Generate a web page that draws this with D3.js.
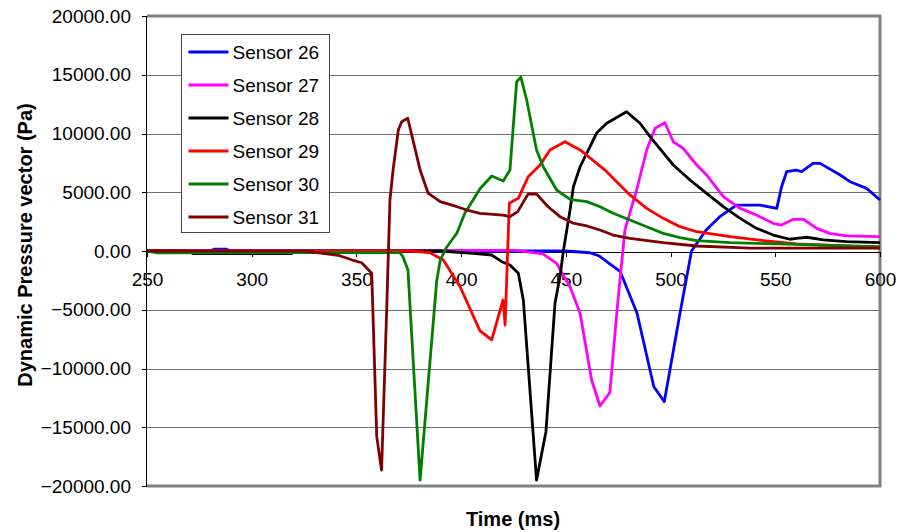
<!DOCTYPE html>
<meta charset="utf-8">
<style>
body { margin: 0; background: #fff; font-family: "Liberation Sans", Arial, sans-serif; }
.axis text { font-family: "Liberation Sans", Arial, sans-serif; font-size: 19px; fill: #000; }
.axis path, .axis line { stroke: #000; stroke-width: 1; shape-rendering: crispEdges; }
.grid line { stroke: #707070; stroke-width: 1; shape-rendering: crispEdges; }
.series { fill: none; stroke-width: 2.8; stroke-linejoin: round; }
</style>
<script src="https://d3js.org/d3.v7.min.js"></script>
<body>
<div id="chart"></div>
<script>
// series data, [time ms, pressure Pa]
var sensor26 = [[250,0],[280,0],[282,150],[288,150],[290,0],[450,0],[461.5,-150],[466,-430],[476,-1760],[484,-5300],[492,-11550],[497,-12820],[504.5,-5300],[510,0],[517,1790],[523.5,2920],[531.5,3910],[542.7,3910],[550.7,3630],[553,5470],[555.4,6750],[560,6890],[562.6,6750],[568,7460],[571.4,7460],[581,6470],[585.7,5900],[593.6,5330],[600,4340]];
var sensor27 = [[250,0],[426,50],[439,-250],[445.6,-1050],[452,-3040],[456.8,-5300],[462.3,-10980],[466.3,-13190],[471,-12060],[474.3,-5300],[478.2,1790],[483.8,5190],[488.6,8600],[492.6,10440],[497.3,10920],[501.3,9300],[506,8740],[512.5,7320],[517.2,6470],[525.2,4620],[533.2,3630],[541,3060],[549,2360],[553,2210],[558.6,2700],[563.4,2700],[569.8,1930],[576,1500],[584,1280],[600,1220]];
var sensor28 = [[250,0],[270,0],[272,-220],[319,-220],[321,0],[390,0],[405.8,-200],[414.6,-340],[419.4,-910],[423.3,-1190],[427.3,-1900],[429.7,-4170],[436,-19500],[440.5,-15380],[444.8,-4450],[447.2,-2190],[448.8,0],[452,3490],[453.6,5470],[456.8,7170],[461.5,8870],[464.7,10040],[469.5,10870],[479,11850],[485.4,10870],[490.2,9730],[501.3,7320],[509.3,6040],[517.2,4910],[525.2,3770],[533.2,2780],[541,1930],[549,1360],[557,1000],[560,1080],[565,1170],[573,940],[584,800],[600,710]];
var sensor29 = [[250,0],[375,0],[385,-140],[391.5,-770],[399.5,-3040],[409,-6800],[414.6,-7570],[420,-4170],[421,-6300],[423,4060],[425.7,4340],[427.3,4480],[432,6320],[437.7,7320],[442.4,8600],[449.6,9300],[456.8,8600],[464.7,7460],[468.7,6890],[472.6,6190],[480.6,4770],[488.6,3630],[496.5,2780],[504.5,2070],[512.5,1640],[528.4,1220],[544.3,880],[560.2,600],[584,425],[600,340]];
var sensor30 = [[250,0],[255,-150],[370.8,-140],[372.2,-480],[374.6,-1620],[380.4,-19500],[388.3,-2600],[390,-770],[393,300],[398,1530],[401.8,3230],[405.7,4340],[409,5300],[414.6,6380],[420.1,5960],[423.3,6890],[426.5,14400],[428.5,14800],[431.3,12850],[436,8600],[439.2,7170],[445.6,5190],[452,4400],[460,4200],[466.3,3770],[472.6,3210],[480.6,2640],[488.6,2070],[496.5,1500],[504.5,1130],[512.5,880],[528.4,710],[552,600],[600,340]];
var sensor31 = [[250,0],[300,0],[326,0],[342,-400],[348,-770],[352.5,-1000],[357.3,-1900],[359.7,-15800],[362,-18640],[364.5,-4700],[366,4340],[367.5,6900],[370,10300],[371.6,11000],[374.5,11300],[380.4,6900],[384.2,4930],[390,4200],[398,3770],[402.7,3490],[409,3200],[420,3060],[423.3,2920],[427,3350],[432,4850],[436,4850],[441.5,3770],[447.2,2920],[453.4,2380],[460,2130],[466.3,1790],[472.5,1360],[480.6,1080],[496.4,710],[512.5,425],[538,250],[600,250]];

var seriesNames = ["Sensor 26", "Sensor 27", "Sensor 28", "Sensor 29", "Sensor 30", "Sensor 31"];
var seriesColors = ["#0000ff", "#ff00ff", "#000000", "#ff0000", "#008000", "#800000"];
var seriesData = [sensor26, sensor27, sensor28, sensor29, sensor30, sensor31];

var xTicks = [250, 300, 350, 400, 450, 500, 550, 600];
var yTicks = [-20000, -15000, -10000, -5000, 0, 5000, 10000, 15000, 20000];

// dimensions
var margin = {top: 16, right: 19, bottom: 46, left: 147},
    width = 899 - margin.left - margin.right,
    height = 532 - margin.top - margin.bottom;

var svgRoot = d3.select("#chart").append("svg")
    .attr("width", 899)
    .attr("height", 532);
var svg = svgRoot.append("g")
    .attr("transform", "translate(" + margin.left + "," + margin.top + ")");

var x = d3.scaleLinear().domain([250, 600]).range([0, width]);
var y = d3.scaleLinear().domain([-20000, 20000]).range([height, 0]);

// horizontal gridlines
svg.append("g").attr("class", "grid")
  .selectAll("line")
  .data(yTicks.filter(function(d) { return d != 0; }))
  .enter().append("line")
    .attr("x1", 0).attr("x2", width)
    .attr("y1", function(d) { return Math.round(y(d)) + 0.5; })
    .attr("y2", function(d) { return Math.round(y(d)) + 0.5; });

// plot frame (top, right, bottom)
svg.append("path")
  .attr("d", "M0," + y(20000) + "H" + width + "V" + y(-20000) + "H0")
  .attr("fill", "none")
  .attr("stroke", "#808080")
  .attr("stroke-width", 3);

// y axis
svg.append("g").attr("class", "axis")
  .call(d3.axisLeft(y).tickValues(yTicks).tickSize(5).tickPadding(11).tickFormat(d3.format(".2f")))
  .call(function(g) { g.select(".domain").attr("d", "M-0.5," + y(20000) + "V" + y(-20000)); });

// x axis on the zero line
svg.append("g").attr("class", "axis")
  .attr("transform", "translate(0," + (Math.round(y(0)) + 0.5) + ")")
  .call(d3.axisBottom(x).tickValues(xTicks).tickSize(5).tickPadding(16).tickFormat(d3.format("d")));

// lines
var line = d3.line()
  .x(function(d) { return x(d[0]); })
  .y(function(d) { return y(d[1]); });

svg.selectAll(".series")
  .data(seriesData)
  .enter().append("path")
    .attr("class", "series")
    .attr("stroke", function(d, i) { return seriesColors[i]; })
    .attr("d", line);

// legend
var legend = svgRoot.append("g").attr("transform", "translate(181.5,34.5)");
legend.append("rect")
  .attr("width", 148).attr("height", 198)
  .attr("fill", "#fff").attr("stroke", "#444").attr("stroke-width", 1);
seriesNames.forEach(function(name, i) {
  var ly = 17.5 + i * 33;
  legend.append("line")
    .attr("x1", 7).attr("x2", 47).attr("y1", ly).attr("y2", ly)
    .attr("stroke", seriesColors[i]).attr("stroke-width", 3);
  legend.append("text")
    .attr("x", 51).attr("y", ly + 7)
    .style("font-size", "19px")
    .text(name);
});

// axis titles
svgRoot.append("text")
  .attr("transform", "translate(32,245)rotate(-90)")
  .style("text-anchor", "middle")
  .style("font-weight", "bold")
  .style("font-size", "20px")
  .text("Dynamic Pressure vector (Pa)");

svgRoot.append("text")
  .attr("x", 513).attr("y", 526)
  .style("text-anchor", "middle")
  .style("font-weight", "bold")
  .style("font-size", "20px")
  .text("Time (ms)");
</script>
</body>
